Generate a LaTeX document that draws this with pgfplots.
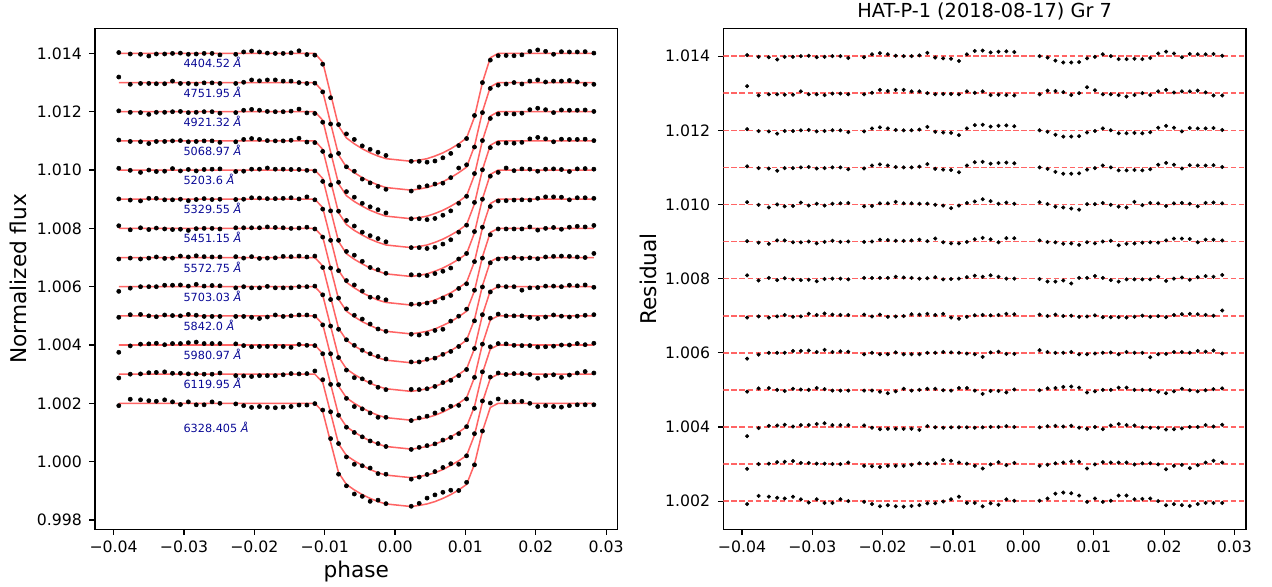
\documentclass[border=0pt]{standalone}
\usepackage{pgfplots}
\pgfplotsset{compat=1.18}
\usepackage{pgfplotstable}
\usepackage{fontspec}
\setmainfont{DejaVu Sans}
\definecolor{modred}{RGB}{255,100,100}
\definecolor{lblue}{RGB}{10,10,150}

% residuals + offset (right panel)
\pgfplotstableread{
ph A B C D E F G H I J K L M
-0.03927 1.01403 1.01319 1.01203 1.01103 1.01006 1.00901 1.00809 1.00695 1.00584 1.00495 1.00375 1.00287 1.00192
-0.03764 1.01398 1.01294 1.01198 1.01098 1.00999 1.00897 1.00795 1.00698 1.00595 1.00504 1.00397 1.00300 1.00214
-0.03618 1.01397 1.01297 1.01197 1.01097 1.00992 1.00894 1.00802 1.00695 1.00600 1.00505 1.00403 1.00301 1.00212
-0.03500 1.01391 1.01297 1.01191 1.01091 1.01000 1.00903 1.00796 1.00698 1.00600 1.00500 1.00404 1.00305 1.00209
-0.03393 1.01398 1.01296 1.01198 1.01098 1.00995 1.00903 1.00801 1.00702 1.00600 1.00497 1.00406 1.00306 1.00207
-0.03275 1.01398 1.01296 1.01198 1.01098 1.00996 1.00898 1.00798 1.00697 1.00605 1.00503 1.00401 1.00308 1.00212
-0.03163 1.01400 1.01305 1.01200 1.01100 1.01005 1.00898 1.00796 1.00698 1.00605 1.00501 1.00405 1.00303 1.00205
-0.03051 1.01401 1.01297 1.01201 1.01101 1.00997 1.00900 1.00797 1.00705 1.00606 1.00500 1.00405 1.00303 1.00196
-0.02938 1.01397 1.01297 1.01197 1.01097 1.01002 1.00895 1.00793 1.00702 1.00602 1.00505 1.00408 1.00301 1.00205
-0.02826 1.01398 1.01295 1.01198 1.01098 1.00997 1.00899 1.00799 1.00706 1.00608 1.00502 1.00410 1.00301 1.00195
-0.02714 1.01400 1.01299 1.01200 1.01100 1.01002 1.00902 1.00800 1.00703 1.00602 1.00498 1.00405 1.00300 1.00195
-0.02601 1.01400 1.01299 1.01200 1.01100 1.01003 1.00899 1.00800 1.00702 1.00604 1.00498 1.00405 1.00300 1.00205
-0.02489 1.01395 1.01297 1.01195 1.01095 1.01004 1.00900 1.00798 1.00702 1.00603 1.00498 1.00405 1.00304 1.00200
-0.02264 1.01397 1.01297 1.01197 1.01097 1.00995 1.00899 1.00802 1.00703 1.00596 1.00498 1.00404 1.00295 1.00198
-0.02152 1.01405 1.01301 1.01205 1.01105 1.00996 1.00900 1.00802 1.00698 1.00600 1.00498 1.00398 1.00294 1.00192
-0.02039 1.01408 1.01309 1.01208 1.01108 1.01003 1.00905 1.00802 1.00703 1.00596 1.00495 1.00394 1.00292 1.00186
-0.01927 1.01405 1.01306 1.01205 1.01105 1.01003 1.00904 1.00802 1.00697 1.00596 1.00491 1.00395 1.00295 1.00189
-0.01815 1.01401 1.01309 1.01201 1.01101 1.01007 1.00902 1.00805 1.00698 1.00601 1.00496 1.00395 1.00295 1.00186
-0.01702 1.01400 1.01309 1.01200 1.01100 1.01003 1.00902 1.00803 1.00699 1.00596 1.00503 1.00395 1.00295 1.00185
-0.01590 1.01400 1.01305 1.01200 1.01100 1.01003 1.00903 1.00802 1.00704 1.00596 1.00498 1.00395 1.00298 1.00187
-0.01478 1.01402 1.01305 1.01202 1.01102 1.01002 1.00905 1.00800 1.00703 1.00596 1.00500 1.00392 1.00302 1.00189
-0.01365 1.01409 1.01300 1.01209 1.01109 1.01002 1.00901 1.00801 1.00705 1.00600 1.00503 1.00402 1.00301 1.00194
-0.01253 1.01396 1.01297 1.01196 1.01096 1.00999 1.00908 1.00804 1.00702 1.00600 1.00503 1.00399 1.00302 1.00194
-0.01140 1.01394 1.01298 1.01194 1.01094 1.00997 1.00898 1.00798 1.00705 1.00602 1.00499 1.00398 1.00311 1.00199
-0.01028 1.01393 1.01298 1.01193 1.01093 1.00990 1.00895 1.00799 1.00695 1.00601 1.00498 1.00399 1.00309 1.00205
-0.00916 1.01387 1.01297 1.01187 1.01087 1.00997 1.00895 1.00800 1.00692 1.00600 1.00505 1.00399 1.00304 1.00212
-0.00803 1.01405 1.01305 1.01205 1.01105 1.01004 1.00899 1.00804 1.00697 1.00598 1.00505 1.00399 1.00301 1.00195
-0.00691 1.01414 1.01301 1.01214 1.01114 1.01008 1.00906 1.00808 1.00701 1.00596 1.00498 1.00398 1.00295 1.00195
-0.00579 1.01415 1.01305 1.01215 1.01115 1.01014 1.00910 1.00805 1.00702 1.00589 1.00489 1.00399 1.00288 1.00186
-0.00466 1.01410 1.01295 1.01210 1.01110 1.01009 1.00906 1.00809 1.00701 1.00601 1.00497 1.00400 1.00299 1.00194
-0.00354 1.01412 1.01296 1.01212 1.01112 1.01002 1.00898 1.00805 1.00702 1.00603 1.00497 1.00400 1.00305 1.00190
-0.00242 1.01413 1.01295 1.01213 1.01113 1.01005 1.00909 1.00800 1.00705 1.00597 1.00493 1.00402 1.00297 1.00205
-0.00129 1.01411 1.01294 1.01211 1.01111 1.01002 1.00909 1.00800 1.00704 1.00597 1.00501 1.00400 1.00303 1.00201
0.00230 1.01400 1.01297 1.01200 1.01100 1.01006 1.00903 1.00799 1.00703 1.00607 1.00499 1.00399 1.00295 1.00201
0.00343 1.01396 1.01307 1.01196 1.01096 1.01001 1.00899 1.00792 1.00699 1.00602 1.00504 1.00402 1.00298 1.00207
0.00455 1.01388 1.01306 1.01188 1.01088 1.00994 1.00898 1.00792 1.00703 1.00600 1.00505 1.00403 1.00302 1.00220
0.00567 1.01383 1.01303 1.01183 1.01083 1.00992 1.00894 1.00795 1.00699 1.00600 1.00508 1.00401 1.00304 1.00223
0.00680 1.01383 1.01295 1.01183 1.01083 1.00989 1.00895 1.00787 1.00700 1.00602 1.00509 1.00403 1.00307 1.00221
0.00792 1.01384 1.01300 1.01184 1.01084 1.00986 1.00891 1.00802 1.00697 1.00596 1.00506 1.00398 1.00306 1.00215
0.00905 1.01394 1.01316 1.01194 1.01094 1.01001 1.00898 1.00802 1.00698 1.00596 1.00493 1.00395 1.00288 1.00198
0.01017 1.01398 1.01308 1.01198 1.01098 1.01001 1.00895 1.00807 1.00701 1.00598 1.00496 1.00400 1.00299 1.00207
0.01129 1.01405 1.01297 1.01205 1.01105 1.01004 1.00900 1.00802 1.00696 1.00600 1.00500 1.00394 1.00305 1.00198
0.01242 1.01400 1.01297 1.01200 1.01100 1.00999 1.00902 1.00796 1.00696 1.00601 1.00500 1.00404 1.00304 1.00201
0.01354 1.01392 1.01295 1.01192 1.01092 1.00994 1.00890 1.00792 1.00696 1.00596 1.00506 1.00408 1.00304 1.00215
0.01466 1.01392 1.01291 1.01192 1.01092 1.00992 1.00894 1.00798 1.00695 1.00602 1.00506 1.00405 1.00304 1.00215
0.01579 1.01393 1.01295 1.01193 1.01093 1.01007 1.00895 1.00798 1.00697 1.00600 1.00500 1.00404 1.00299 1.00205
0.01691 1.01392 1.01300 1.01192 1.01092 1.00998 1.00897 1.00798 1.00700 1.00600 1.00500 1.00399 1.00302 1.00206
0.01803 1.01395 1.01295 1.01195 1.01095 1.01004 1.00898 1.00798 1.00697 1.00588 1.00500 1.00398 1.00302 1.00207
0.01916 1.01407 1.01305 1.01207 1.01107 1.01003 1.00897 1.00805 1.00699 1.00596 1.00495 1.00398 1.00299 1.00200
0.02028 1.01412 1.01309 1.01212 1.01112 1.00996 1.00903 1.00794 1.00696 1.00597 1.00491 1.00393 1.00286 1.00189
0.02140 1.01407 1.01302 1.01207 1.01107 1.01003 1.00908 1.00800 1.00702 1.00602 1.00496 1.00394 1.00295 1.00192
0.02253 1.01397 1.01305 1.01197 1.01097 1.01004 1.00908 1.00803 1.00704 1.00602 1.00503 1.00396 1.00298 1.00189
0.02365 1.01406 1.01305 1.01206 1.01106 1.01002 1.00907 1.00797 1.00705 1.00600 1.00499 1.00400 1.00289 1.00187
0.02478 1.01405 1.01307 1.01205 1.01105 1.00995 1.00898 1.00804 1.00704 1.00605 1.00496 1.00400 1.00297 1.00192
0.02590 1.01405 1.01302 1.01205 1.01105 1.01004 1.00905 1.00807 1.00702 1.00603 1.00499 1.00405 1.00304 1.00195
0.02702 1.01406 1.01294 1.01206 1.01106 1.01005 1.00905 1.00805 1.00700 1.00606 1.00502 1.00401 1.00309 1.00195
0.02826 1.01401 1.01294 1.01201 1.01101 1.01003 1.00903 1.00810 1.00714 1.00598 1.00504 1.00406 1.00304 1.00195
}\restab

% normalized flux + offset (left panel)
\pgfplotstableread{
ph A B C D E F G H I J K L M
-0.03927 1.01403 1.01319 1.01203 1.01103 1.01006 1.00901 1.00809 1.00695 1.00584 1.00495 1.00375 1.00287 1.00192
-0.03764 1.01398 1.01294 1.01198 1.01098 1.00999 1.00897 1.00795 1.00698 1.00595 1.00504 1.00397 1.00300 1.00214
-0.03618 1.01397 1.01297 1.01197 1.01097 1.00992 1.00894 1.00802 1.00695 1.00600 1.00505 1.00403 1.00301 1.00212
-0.03500 1.01391 1.01297 1.01191 1.01091 1.01000 1.00903 1.00796 1.00698 1.00600 1.00500 1.00404 1.00305 1.00209
-0.03393 1.01398 1.01296 1.01198 1.01098 1.00995 1.00903 1.00801 1.00702 1.00600 1.00497 1.00406 1.00306 1.00207
-0.03275 1.01398 1.01296 1.01198 1.01098 1.00996 1.00898 1.00798 1.00697 1.00605 1.00503 1.00401 1.00308 1.00212
-0.03163 1.01400 1.01305 1.01200 1.01100 1.01005 1.00898 1.00796 1.00698 1.00605 1.00501 1.00405 1.00303 1.00205
-0.03051 1.01401 1.01297 1.01201 1.01101 1.00997 1.00900 1.00797 1.00705 1.00606 1.00500 1.00405 1.00303 1.00196
-0.02938 1.01397 1.01297 1.01197 1.01097 1.01002 1.00895 1.00793 1.00702 1.00602 1.00505 1.00408 1.00301 1.00205
-0.02826 1.01398 1.01295 1.01198 1.01098 1.00997 1.00899 1.00799 1.00706 1.00608 1.00502 1.00410 1.00301 1.00195
-0.02714 1.01400 1.01299 1.01200 1.01100 1.01002 1.00902 1.00800 1.00703 1.00602 1.00498 1.00405 1.00300 1.00195
-0.02601 1.01400 1.01299 1.01200 1.01100 1.01003 1.00899 1.00800 1.00702 1.00604 1.00498 1.00405 1.00300 1.00205
-0.02489 1.01395 1.01297 1.01195 1.01095 1.01004 1.00900 1.00798 1.00702 1.00603 1.00498 1.00405 1.00304 1.00200
-0.02264 1.01397 1.01297 1.01197 1.01097 1.00995 1.00899 1.00802 1.00703 1.00596 1.00498 1.00404 1.00295 1.00198
-0.02152 1.01405 1.01301 1.01205 1.01105 1.00996 1.00900 1.00802 1.00698 1.00600 1.00498 1.00398 1.00294 1.00192
-0.02039 1.01408 1.01309 1.01208 1.01108 1.01003 1.00905 1.00802 1.00703 1.00596 1.00495 1.00394 1.00292 1.00186
-0.01927 1.01405 1.01306 1.01205 1.01105 1.01003 1.00904 1.00802 1.00697 1.00596 1.00491 1.00395 1.00295 1.00189
-0.01815 1.01401 1.01309 1.01201 1.01101 1.01007 1.00902 1.00805 1.00698 1.00601 1.00496 1.00395 1.00295 1.00186
-0.01702 1.01400 1.01309 1.01200 1.01100 1.01003 1.00902 1.00803 1.00699 1.00596 1.00503 1.00395 1.00295 1.00185
-0.01590 1.01400 1.01305 1.01200 1.01100 1.01003 1.00903 1.00802 1.00704 1.00596 1.00498 1.00395 1.00298 1.00187
-0.01478 1.01402 1.01305 1.01202 1.01102 1.01002 1.00905 1.00800 1.00703 1.00596 1.00500 1.00392 1.00302 1.00189
-0.01365 1.01409 1.01300 1.01209 1.01109 1.01002 1.00901 1.00801 1.00705 1.00600 1.00503 1.00402 1.00301 1.00194
-0.01253 1.01396 1.01297 1.01196 1.01096 1.00999 1.00908 1.00804 1.00702 1.00600 1.00503 1.00399 1.00302 1.00194
-0.01140 1.01394 1.01298 1.01194 1.01094 1.00997 1.00898 1.00798 1.00705 1.00602 1.00499 1.00398 1.00311 1.00199
-0.01028 1.01363 1.01268 1.01164 1.01064 1.00961 1.00866 1.00770 1.00666 1.00572 1.00469 1.00370 1.00281 1.00177
-0.00916 1.01248 1.01158 1.01049 1.00949 1.00860 1.00759 1.00664 1.00556 1.00465 1.00370 1.00265 1.00171 1.00079
-0.00803 1.01156 1.01057 1.00958 1.00859 1.00759 1.00655 1.00561 1.00454 1.00357 1.00264 1.00159 1.00062 0.99957
-0.00691 1.01124 1.01011 1.00926 1.00827 1.00721 1.00621 1.00524 1.00418 1.00314 1.00217 1.00118 1.00016 0.99917
-0.00579 1.01105 1.00996 1.00907 1.00808 1.00708 1.00606 1.00502 1.00399 1.00288 1.00189 1.00100 0.99991 0.99889
-0.00466 1.01083 1.00969 1.00886 1.00787 1.00687 1.00585 1.00489 1.00382 1.00284 1.00181 1.00085 0.99986 0.99881
-0.00354 1.01071 1.00956 1.00874 1.00775 1.00666 1.00564 1.00472 1.00370 1.00272 1.00167 1.00071 0.99978 0.99864
-0.00242 1.01061 1.00944 1.00864 1.00765 1.00658 1.00563 1.00455 1.00361 1.00255 1.00152 1.00062 0.99959 0.99868
-0.00129 1.01050 1.00934 1.00853 1.00754 1.00646 1.00555 1.00447 1.00352 1.00247 1.00152 1.00052 0.99957 0.99856
0.00230 1.01030 1.00928 1.00833 1.00734 1.00641 1.00540 1.00437 1.00342 1.00248 1.00141 1.00042 0.99940 0.99847
0.00343 1.01030 1.00942 1.00833 1.00734 1.00640 1.00540 1.00434 1.00342 1.00247 1.00150 1.00049 0.99947 0.99857
0.00455 1.01027 1.00946 1.00830 1.00731 1.00638 1.00544 1.00439 1.00351 1.00250 1.00156 1.00055 0.99956 0.99875
0.00567 1.01031 1.00952 1.00834 1.00735 1.00645 1.00548 1.00450 1.00355 1.00258 1.00167 1.00061 0.99966 0.99886
0.00680 1.01042 1.00955 1.00845 1.00746 1.00653 1.00561 1.00454 1.00368 1.00271 1.00179 1.00074 0.99980 0.99895
0.00792 1.01057 1.00974 1.00860 1.00761 1.00664 1.00570 1.00482 1.00378 1.00279 1.00190 1.00083 0.99993 0.99902
0.00905 1.01084 1.01007 1.00886 1.00787 1.00695 1.00594 1.00499 1.00395 1.00295 1.00193 1.00096 0.99991 0.99901
0.01017 1.01108 1.01018 1.00910 1.00811 1.00714 1.00610 1.00523 1.00418 1.00316 1.00215 1.00120 1.00020 0.99929
0.01129 1.01187 1.01079 1.00988 1.00889 1.00789 1.00686 1.00588 1.00483 1.00388 1.00289 1.00183 1.00096 0.99989
0.01242 1.01300 1.01197 1.01101 1.01001 1.00900 1.00804 1.00698 1.00599 1.00504 1.00403 1.00308 1.00208 1.00105
0.01354 1.01377 1.01280 1.01177 1.01077 1.00979 1.00875 1.00778 1.00682 1.00582 1.00492 1.00394 1.00290 1.00201
0.01466 1.01392 1.01291 1.01192 1.01092 1.00992 1.00894 1.00798 1.00695 1.00602 1.00506 1.00405 1.00304 1.00215
0.01579 1.01393 1.01295 1.01193 1.01093 1.01007 1.00895 1.00798 1.00697 1.00600 1.00500 1.00404 1.00299 1.00205
0.01691 1.01392 1.01300 1.01192 1.01092 1.00998 1.00897 1.00798 1.00700 1.00600 1.00500 1.00399 1.00302 1.00206
0.01803 1.01395 1.01295 1.01195 1.01095 1.01004 1.00898 1.00798 1.00697 1.00588 1.00500 1.00398 1.00302 1.00207
0.01916 1.01407 1.01305 1.01207 1.01107 1.01003 1.00897 1.00805 1.00699 1.00596 1.00495 1.00398 1.00299 1.00200
0.02028 1.01412 1.01309 1.01212 1.01112 1.00996 1.00903 1.00794 1.00696 1.00597 1.00491 1.00393 1.00286 1.00189
0.02140 1.01407 1.01302 1.01207 1.01107 1.01003 1.00908 1.00800 1.00702 1.00602 1.00496 1.00394 1.00295 1.00192
0.02253 1.01397 1.01305 1.01197 1.01097 1.01004 1.00908 1.00803 1.00704 1.00602 1.00503 1.00396 1.00298 1.00189
0.02365 1.01406 1.01305 1.01206 1.01106 1.01002 1.00907 1.00797 1.00705 1.00600 1.00499 1.00400 1.00289 1.00187
0.02478 1.01405 1.01307 1.01205 1.01105 1.00995 1.00898 1.00804 1.00704 1.00605 1.00496 1.00400 1.00297 1.00192
0.02590 1.01405 1.01302 1.01205 1.01105 1.01004 1.00905 1.00807 1.00702 1.00603 1.00499 1.00405 1.00304 1.00195
0.02702 1.01406 1.01294 1.01206 1.01106 1.01005 1.00905 1.00805 1.00700 1.00606 1.00502 1.00401 1.00309 1.00195
0.02826 1.01401 1.01294 1.01201 1.01101 1.01003 1.00903 1.00810 1.00714 1.00598 1.00504 1.00406 1.00304 1.00195
}\dattab

% transit model + offset
\pgfplotstableread{
ph A B C D E F G H I J K L M
-0.03927 1.01400 1.01300 1.01200 1.01100 1.01000 1.00900 1.00800 1.00700 1.00600 1.00500 1.00400 1.00300 1.00200
-0.01140 1.01400 1.01300 1.01200 1.01100 1.01000 1.00900 1.00800 1.00700 1.00600 1.00500 1.00400 1.00300 1.00200
-0.01028 1.01370 1.01270 1.01171 1.01071 1.00971 1.00871 1.00771 1.00671 1.00571 1.00471 1.00371 1.00272 1.00172
-0.00916 1.01261 1.01161 1.01062 1.00962 1.00863 1.00764 1.00664 1.00564 1.00465 1.00365 1.00266 1.00167 1.00067
-0.00803 1.01151 1.01052 1.00953 1.00854 1.00755 1.00656 1.00557 1.00457 1.00359 1.00259 1.00160 1.00061 0.99962
-0.00691 1.01110 1.01010 1.00912 1.00813 1.00713 1.00615 1.00516 1.00417 1.00318 1.00219 1.00120 1.00021 0.99922
-0.00579 1.01090 1.00991 1.00892 1.00793 1.00694 1.00596 1.00497 1.00397 1.00299 1.00200 1.00101 1.00003 0.99903
-0.00466 1.01073 1.00974 1.00876 1.00777 1.00678 1.00579 1.00480 1.00381 1.00283 1.00184 1.00085 0.99987 0.99887
-0.00354 1.01059 1.00960 1.00862 1.00763 1.00664 1.00566 1.00467 1.00368 1.00269 1.00170 1.00071 0.99973 0.99874
-0.00242 1.01048 1.00949 1.00851 1.00752 1.00653 1.00554 1.00455 1.00356 1.00258 1.00159 1.00060 0.99962 0.99863
-0.00129 1.01039 1.00940 1.00842 1.00743 1.00644 1.00546 1.00447 1.00348 1.00250 1.00151 1.00052 0.99954 0.99855
0.00230 1.01030 1.00931 1.00833 1.00734 1.00635 1.00537 1.00438 1.00339 1.00241 1.00142 1.00043 0.99945 0.99846
0.00343 1.01034 1.00935 1.00837 1.00738 1.00639 1.00541 1.00442 1.00343 1.00245 1.00146 1.00047 0.99949 0.99850
0.00455 1.01039 1.00940 1.00842 1.00743 1.00644 1.00546 1.00447 1.00348 1.00250 1.00151 1.00052 0.99954 0.99855
0.00567 1.01048 1.00949 1.00851 1.00752 1.00653 1.00554 1.00455 1.00356 1.00258 1.00159 1.00060 0.99962 0.99863
0.00680 1.01059 1.00960 1.00862 1.00763 1.00664 1.00566 1.00467 1.00368 1.00269 1.00170 1.00071 0.99973 0.99874
0.00792 1.01073 1.00974 1.00876 1.00777 1.00678 1.00579 1.00480 1.00381 1.00283 1.00184 1.00085 0.99987 0.99887
0.00905 1.01090 1.00991 1.00892 1.00793 1.00694 1.00596 1.00497 1.00397 1.00299 1.00200 1.00101 1.00003 0.99903
0.01017 1.01110 1.01010 1.00912 1.00813 1.00713 1.00615 1.00516 1.00417 1.00318 1.00219 1.00120 1.00021 0.99922
0.01129 1.01182 1.01082 1.00983 1.00884 1.00785 1.00686 1.00586 1.00487 1.00388 1.00289 1.00189 1.00091 0.99991
0.01242 1.01300 1.01200 1.01101 1.01001 1.00901 1.00802 1.00702 1.00603 1.00503 1.00403 1.00304 1.00204 1.00104
0.01354 1.01385 1.01285 1.01185 1.01085 1.00985 1.00885 1.00786 1.00686 1.00586 1.00486 1.00386 1.00286 1.00186
0.01466 1.01400 1.01300 1.01200 1.01100 1.01000 1.00900 1.00800 1.00700 1.00600 1.00500 1.00400 1.00300 1.00200
0.02826 1.01400 1.01300 1.01200 1.01100 1.01000 1.00900 1.00800 1.00700 1.00600 1.00500 1.00400 1.00300 1.00200
}\modtab

\pgfplotsset{
  panel/.style={
    scale only axis, width=376.3pt, height=360.7pt, anchor=south west,
    xmin=-0.04265, xmax=0.03164,
    axis line style={line width=0.8pt},
    every tick/.style={black, line width=0.8pt},
    major tick length=4pt,
    tick align=outside, xtick pos=bottom, ytick pos=left,
    xtick={-0.04,-0.03,-0.02,-0.01,0,0.01,0.02,0.03},
    xticklabels={−0.04,−0.03,−0.02,−0.01,0.00,0.01,0.02,0.03},
    tick label style={font=\fontsize{11.3}{13}\selectfont},
    yticklabel style={xshift=-2pt},
    xticklabel style={yshift=-1pt},
    scaled ticks=false,
  }}

\begin{document}
\begin{tikzpicture}
\useasboundingbox (0,0) rectangle (915.84pt,422.64pt);

% left: light curves with model
\begin{axis}[panel, at={(68.4pt,41.54pt)},
  ymin=0.99768, ymax=1.01486,
  ytick={0.998,1.000,1.002,1.004,1.006,1.008,1.010,1.012,1.014},
  yticklabels={0.998,1.000,1.002,1.004,1.006,1.008,1.010,1.012,1.014},
  xlabel={phase}, ylabel={Normalized flux},
  every axis x label/.style={at={(axis description cs:0.5,0)}, anchor=center, yshift=-30.7pt, font=\fontsize{15.6}{18}\selectfont},
  every axis y label/.style={at={(axis description cs:-0.147,0.5)}, anchor=center, rotate=90, font=\fontsize{15.6}{18}\selectfont},
]
\pgfplotsinvokeforeach{A,B,C,D,E,F,G,H,I,J,K,L,M}{
  \addplot[modred, line width=1.1pt] table[x=ph, y=#1] {\modtab};
}
\pgfplotsinvokeforeach{A,B,C,D,E,F,G,H,I,J,K,L,M}{
  \addplot[only marks, mark=*, mark size=1.5pt, black] table[x=ph, y=#1] {\dattab};
}
\begin{scope}[every node/.style={anchor=west, inner sep=0pt, text=lblue, font=\fontsize{8.1}{9}\selectfont}]
\node at (axis cs:-0.0301,1.01368) {4404.52 \textit{Å}};
\node at (axis cs:-0.0301,1.01268) {4751.95 \textit{Å}};
\node at (axis cs:-0.0301,1.01168) {4921.32 \textit{Å}};
\node at (axis cs:-0.0301,1.01068) {5068.97 \textit{Å}};
\node at (axis cs:-0.0301,1.00968) {5203.6 \textit{Å}};
\node at (axis cs:-0.0301,1.00868) {5329.55 \textit{Å}};
\node at (axis cs:-0.0301,1.00768) {5451.15 \textit{Å}};
\node at (axis cs:-0.0301,1.00668) {5572.75 \textit{Å}};
\node at (axis cs:-0.0301,1.00568) {5703.03 \textit{Å}};
\node at (axis cs:-0.0301,1.00468) {5842.0 \textit{Å}};
\node at (axis cs:-0.0301,1.00368) {5980.97 \textit{Å}};
\node at (axis cs:-0.0301,1.00268) {6119.95 \textit{Å}};
\node at (axis cs:-0.0301,1.00117) {6328.405 \textit{Å}};
\end{scope}
\end{axis}

% right: residuals
\begin{axis}[panel, at={(520.8pt,41.54pt)},
  ymin=1.00124, ymax=1.01475,
  ytick={1.002,1.004,1.006,1.008,1.010,1.012,1.014},
  yticklabels={1.002,1.004,1.006,1.008,1.010,1.012,1.014},
  ylabel={Residual},
  every axis y label/.style={at={(axis description cs:-0.144,0.5)}, anchor=center, rotate=90, font=\fontsize{15.6}{18}\selectfont},
  title={HAT-P-1 (2018-08-17) Gr 7},
  every axis title/.style={at={(axis description cs:0.5,1)}, anchor=center, yshift=12pt, font=\fontsize{13.9}{16}\selectfont},
]
\pgfplotsinvokeforeach{1.002,1.003,1.004,1.005,1.006,1.007,1.008,1.009,1.010,1.011,1.012,1.013,1.014}{
  \addplot[modred, line width=1.15pt, dash pattern=on 4pt off 1.8pt] coordinates {(-0.04265,#1) (0.03164,#1)};
}
\pgfplotsinvokeforeach{A,B,C,D,E,F,G,H,I,J,K,L,M}{
  \addplot[only marks, mark=*, mark size=1.25pt, black] table[x=ph, y=#1] {\restab};
}
\end{axis}
\end{tikzpicture}
\end{document}
